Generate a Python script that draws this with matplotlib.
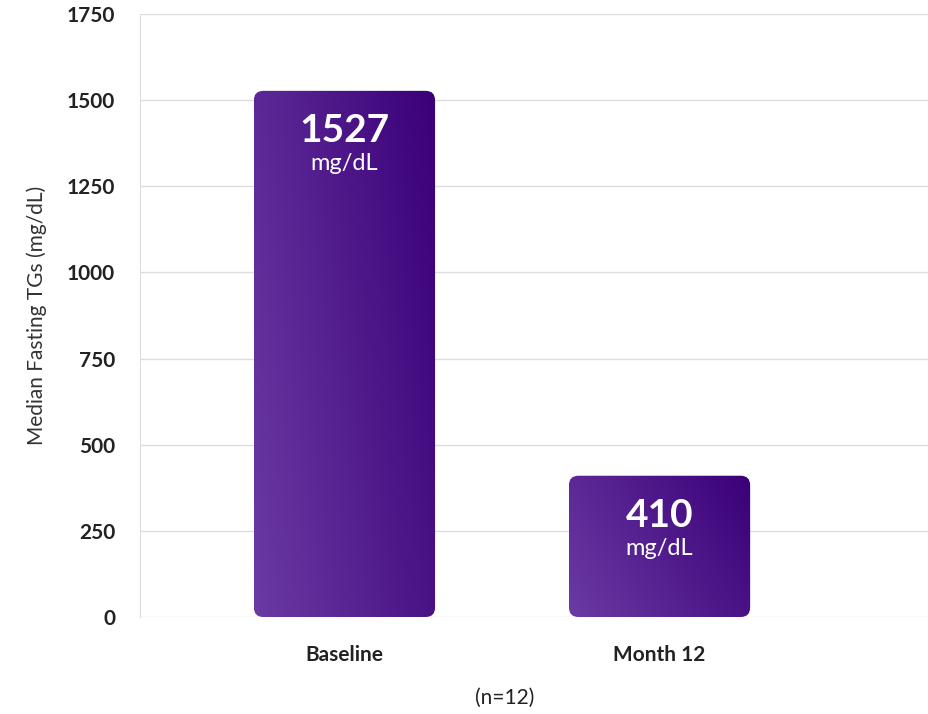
import matplotlib
matplotlib.use("Agg")
import matplotlib.pyplot as plt
import numpy as np
from matplotlib.patches import FancyBboxPatch
from matplotlib.colors import LinearSegmentedColormap

categories = ["Baseline", "Month 12"]
values = [1527, 410]
labels = ["1527", "410"]
yticks = [0, 250, 500, 750, 1000, 1250, 1500, 1750]

plt.rcParams['font.family'] = ['Lato', 'DejaVu Sans']
fig = plt.figure(figsize=(9.29, 7.14), dpi=100)
ax = fig.add_axes([140/929, 1-617/714, 788/929, 603/714])
ax.set_xlim(-0.649, 1.852)
ax.set_ylim(0, 1750)
ax.set_yticks(yticks)
ax.set_yticklabels([str(t) for t in yticks], fontsize=15, fontweight='bold', color='#222222')
ax.yaxis.grid(True, color='#dddddd', lw=1)
ax.set_axisbelow(True)
ax.tick_params(length=0, pad=18)
for s in ['top', 'right', 'bottom']:
    ax.spines[s].set_visible(False)
ax.spines['left'].set_color('#dddddd')
ax.set_xticks(range(len(categories)))
ax.set_xticklabels(categories, fontsize=15, fontweight='bold', color='#222222')
ax.tick_params(axis='x', pad=20)
ax.set_ylabel("Median Fasting TGs (mg/dL)", fontsize=15, color='#333333', labelpad=14)
fig.text(505/929, 1-698/714, "(n=12)", ha='center', va='center', fontsize=15, color='#222222')

cmap = LinearSegmentedColormap.from_list('g', ['#6b3aa3', '#3a0078'])
w = 0.575
xx, yy = np.meshgrid(np.linspace(0, 1, 200), np.linspace(0, 1, 200))
grad = (xx * 0.7 + (1 - yy) * 0.3)
for i, v in enumerate(values):
    x0 = i - w/2
    patch = FancyBboxPatch((x0, 0), w, v, boxstyle="round,pad=0,rounding_size=0.03",
                           mutation_aspect=1750/2.5*788/603/1.0, fc='none', ec='none')
    ax.add_patch(patch)
    im = ax.imshow(grad, cmap=cmap, extent=[x0, x0+w, 0, v], origin='upper',
                   aspect='auto', zorder=3)
    im.set_clip_path(patch)
    ax.text(i, v - 115, labels[i], ha='center', va='center', fontsize=28,
            fontweight='bold', color='white', zorder=4)
    ax.text(i, v - 210, "mg/dL", ha='center', va='center', fontsize=17,
            color='white', zorder=4)
ax.set_xlim(-0.649, 1.852)
ax.set_ylim(0, 1750)
fig.savefig("out.png", dpi=100)
